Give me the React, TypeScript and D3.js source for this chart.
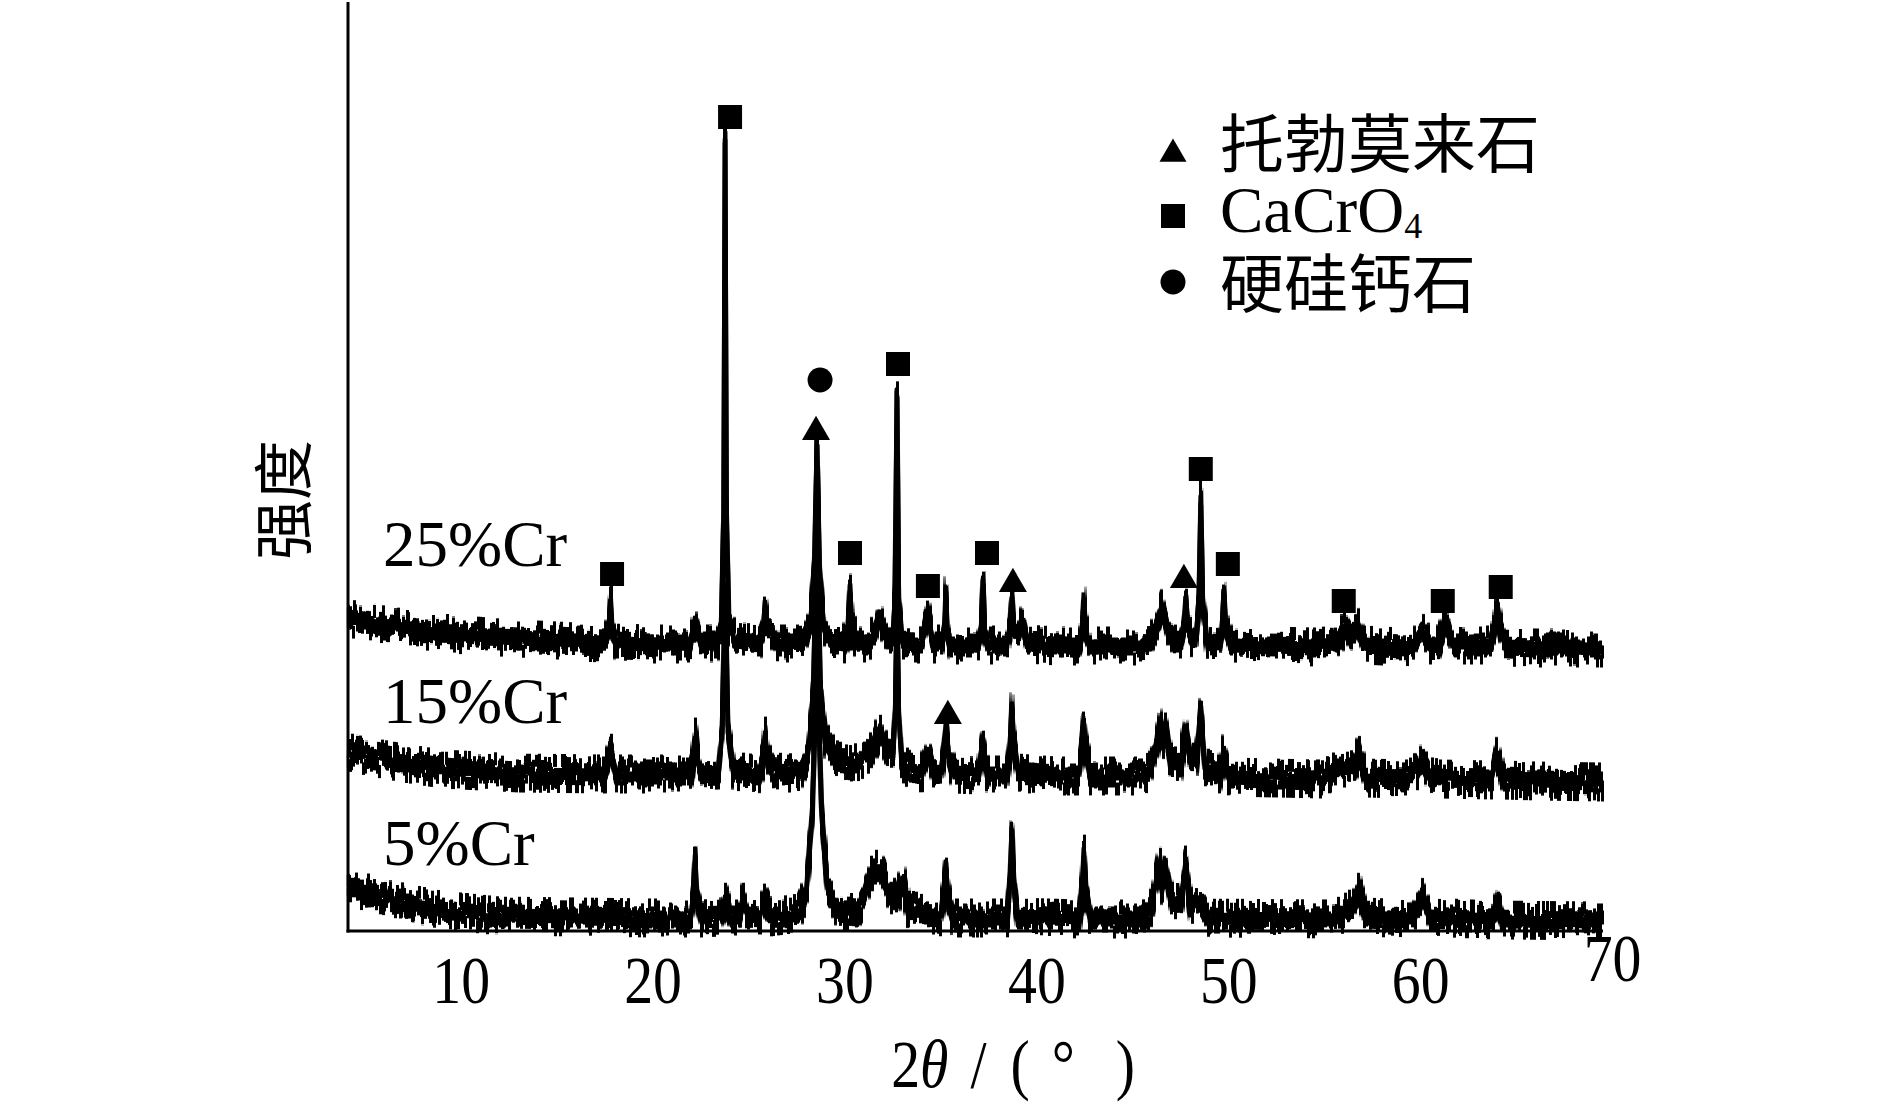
import React from "react";
import * as d3 from "d3";

// ---------- data (2θ in degrees, intensity in arbitrary units) ----------
const X_DOMAIN: [number, number] = [4.1, 69.5];
const Y_DOMAIN: [number, number] = [0, 930];
const X_TICKS = [10, 20, 30, 40, 50, 60, 70];

const SERIES_NAMES = ["25%Cr", "15%Cr", "5%Cr"];

const CR25: [number, number][] = [
  [4.1, 313], [5.0, 309], [7.0, 303], [9.0, 298], [12.0, 293], [16.0, 289],
  [17.5, 288], [17.7, 300], [17.78, 328], [17.86, 300], [18.1, 288],
  [20.0, 287],
  [21.9, 287], [22.19, 305], [22.5, 287],
  [23.3, 287], [23.55, 300], [23.68, 420], [23.75, 792], [23.82, 420], [23.95, 305], [24.3, 290],
  [25.5, 287], [25.75, 302], [25.83, 324], [25.95, 305], [26.2, 300], [26.5, 287],
  [27.5, 287],
  [27.9, 289], [28.2, 305], [28.4, 360], [28.54, 490], [28.68, 360], [28.9, 305], [29.3, 289],
  [29.95, 287], [30.15, 300], [30.26, 342], [30.38, 300], [30.7, 288],
  [31.2, 288], [31.6, 300], [31.82, 315], [32.1, 300], [32.35, 292],
  [32.5, 292], [32.6, 330], [32.71, 538], [32.8, 330], [32.95, 293], [33.3, 287],
  [34.0, 287], [34.32, 315], [34.6, 287],
  [35.05, 287], [35.18, 300], [35.26, 336], [35.34, 300], [35.5, 286],
  [36.95, 286], [37.1, 300], [37.19, 349], [37.28, 300], [37.45, 286],
  [38.45, 286], [38.6, 300], [38.7, 330], [38.8, 300], [39.05, 295], [39.27, 310], [39.5, 287],
  [41.0, 285],
  [42.2, 285], [42.35, 298], [42.45, 330], [42.55, 298], [42.75, 285],
  [45.5, 285],
  [45.9, 287], [46.3, 305], [46.55, 324], [46.8, 305], [47.2, 290],
  [47.5, 292], [47.66, 305], [47.76, 331], [47.86, 305], [48.1, 293],
  [48.3, 294], [48.44, 330], [48.54, 434], [48.64, 330], [48.85, 292],
  [49.5, 287], [49.64, 302], [49.74, 337], [49.84, 302], [50.1, 286],
  [54.5, 284],
  [55.5, 286], [55.9, 298], [56.15, 309], [56.4, 296], [56.7, 304], [57.0, 286],
  [59.0, 284],
  [59.7, 285], [60.1, 300], [60.5, 286],
  [60.9, 286], [61.25, 311], [61.6, 286],
  [63.65, 286], [63.85, 300], [64.0, 323], [64.15, 300], [64.45, 284],
  [66.0, 283], [69.5, 283],
];

const CR15: [number, number][] = [
  [4.1, 179], [5.0, 175], [7.0, 168], [9.0, 162], [13.0, 158],
  [17.5, 157], [17.81, 178], [18.1, 157],
  [21.9, 157], [22.05, 168], [22.19, 194], [22.33, 168], [22.5, 157],
  [23.4, 158], [23.6, 200], [23.75, 341], [23.9, 200], [24.2, 160],
  [25.5, 157], [25.75, 172], [25.83, 198], [25.95, 175], [26.3, 162], [26.8, 157],
  [27.7, 160], [28.1, 180], [28.35, 240], [28.54, 411], [28.72, 240], [29.0, 190], [29.5, 172],
  [30.2, 166], [30.8, 170], [31.4, 180], [31.82, 201], [32.2, 182],
  [32.5, 178], [32.62, 220], [32.71, 331], [32.8, 220], [32.95, 170], [33.4, 160],
  [34.0, 158], [34.32, 178], [34.6, 157],
  [35.0, 158], [35.15, 180], [35.26, 205], [35.4, 175], [35.7, 157],
  [36.95, 156], [37.19, 189], [37.4, 156],
  [38.45, 156], [38.6, 185], [38.7, 228], [38.8, 185], [39.0, 158],
  [41.0, 155],
  [42.2, 155], [42.35, 180], [42.45, 207], [42.55, 180], [42.8, 155],
  [45.5, 155],
  [45.9, 160], [46.25, 185], [46.4, 206], [46.55, 190], [46.7, 206], [46.95, 170],
  [47.5, 168], [47.76, 203], [48.0, 172],
  [48.3, 170], [48.54, 220], [48.75, 165],
  [49.5, 155], [49.74, 178], [50.0, 154],
  [54.8, 152],
  [55.3, 158], [55.6, 166], [55.9, 158], [56.5, 162], [56.77, 178], [57.1, 153],
  [59.3, 152], [59.8, 160], [60.1, 171], [60.5, 156], [61.0, 152],
  [63.7, 151], [64.0, 178], [64.3, 151],
  [66.0, 150], [69.5, 149],
];

const CR05: [number, number][] = [
  [4.1, 45], [5.0, 39], [7.0, 29], [9.0, 21], [12.0, 15], [20.0, 13],
  [21.95, 13], [22.1, 35], [22.19, 73], [22.28, 35], [22.5, 13],
  [23.5, 14], [23.75, 33], [24.0, 15], [24.5, 15], [24.69, 30], [24.9, 16],
  [25.6, 15], [25.83, 28], [26.1, 14],
  [27.6, 18], [28.0, 40], [28.3, 120], [28.54, 291], [28.78, 120], [29.1, 40], [29.6, 20],
  [30.6, 18], [31.0, 35], [31.3, 55], [31.6, 62], [31.9, 58], [32.3, 40], [32.7, 30],
  [33.02, 51], [33.3, 22],
  [35.0, 14], [35.15, 35], [35.26, 64], [35.4, 30], [35.6, 13],
  [38.45, 13], [38.6, 50], [38.7, 103], [38.8, 50], [39.0, 14],
  [42.2, 12], [42.35, 40], [42.45, 83], [42.55, 40], [42.8, 12],
  [45.5, 12], [46.0, 25], [46.4, 68], [46.55, 45], [46.7, 66], [47.0, 30],
  [47.5, 28], [47.76, 66], [48.0, 25], [48.6, 28], [49.0, 13],
  [55.5, 12], [56.2, 20], [56.5, 25], [56.8, 39], [57.1, 14],
  [59.5, 12], [60.05, 38], [60.5, 14],
  [63.8, 11], [64.06, 28], [64.3, 11],
  [69.5, 10],
];

// phase markers [2θ, intensity position]
const MARK_SQUARE: [number, number][] = [
  [24.01, 814], [32.76, 567], [17.86, 357], [30.26, 378], [34.32, 345], [37.40, 378],
  [48.54, 462], [49.95, 367], [55.99, 330], [61.15, 330], [64.17, 344],
];
const MARK_TRIANGLE: [number, number][] = [
  [28.49, 503], [38.75, 351], [47.66, 355], [35.36, 219],
];
const MARK_CIRCLE: [number, number][] = [[28.7, 551]];

const LEGEND = ["托勃莫来石", "CaCrO", "硬硅钙石"];

// ---------- layout ----------
const W = 1890;
const H = 1110;
const LEFT = 348;
const RIGHT = 1603;
const BOTTOM = 931;
const TOP = 1;
const SERIF = "'Liberation Serif', 'Times New Roman', serif";
const CJK = "'Noto Sans CJK SC', sans-serif";

const x = d3.scaleLinear().domain(X_DOMAIN).range([LEFT, RIGHT]);
const y = d3.scaleLinear().domain(Y_DOMAIN).range([BOTTOM, TOP]);
const line = d3
  .line<[number, number]>()
  .x((d) => x(d[0]))
  .y((d) => y(d[1]));

const triPath = d3.symbol().type(d3.symbolTriangle).size(340)() as string;
const sqPath = d3.symbol().type(d3.symbolSquare).size(576)() as string;
const circPath = d3.symbol().type(d3.symbolCircle).size(491)() as string;

const SERIES = [CR25, CR15, CR05];
const LABEL_BASE = [566, 723, 865];
const SEEDS = [7, 23, 41];

// the detector noise is rendered as a texture (SVG filter), not as data
function NoiseFilter({ id, seed }: { id: string; seed: number }) {
  const cm = "0 0 0 0 0.5  0 2.6 0 0 -0.8  0 0 0 0 0  0 0 0 0 1";
  return (
    <filter id={id} x="-2%" y="-25%" width="104%" height="150%" colorInterpolationFilters="sRGB">
      <feTurbulence type="fractalNoise" baseFrequency="1.7 0.003" numOctaves={2} seed={seed} result="t1" />
      <feColorMatrix in="t1" type="matrix" values={cm} result="m1" />
      <feDisplacementMap in="SourceGraphic" in2="m1" scale={26} xChannelSelector="R" yChannelSelector="G" result="d1" />
      <feMorphology in="d1" operator="dilate" radius="0.8 4.5" result="dd1" />
      <feTurbulence type="fractalNoise" baseFrequency="1.3 0.003" numOctaves={2} seed={seed + 101} result="t2" />
      <feColorMatrix in="t2" type="matrix" values={cm} result="m2" />
      <feDisplacementMap in="SourceGraphic" in2="m2" scale={14} xChannelSelector="R" yChannelSelector="G" result="d2" />
      <feMorphology in="d2" operator="dilate" radius="0.8 3" result="dd2" />
      <feMerge>
        <feMergeNode in="dd1" />
        <feMergeNode in="dd2" />
        <feMergeNode in="SourceGraphic" />
      </feMerge>
    </filter>
  );
}

export default function App() {
  return (
    <svg
      width={W}
      height={H}
      viewBox={`0 0 ${W} ${H}`}
      style={{ position: "absolute", left: 0, top: 0, display: "block", background: "#fff" }}
    >
      <defs>
        {SEEDS.map((s, i) => (
          <NoiseFilter key={i} id={`nz${i}`} seed={s} />
        ))}
      </defs>
      <rect width={W} height={H} fill="#fff" />

      {/* series */}
      {SERIES.map((s, i) => (
        <path
          key={i}
          d={line(s) as string}
          fill="none"
          stroke="#000"
          strokeWidth={2.8}
          strokeLinejoin="round"
          filter={`url(#nz${i})`}
        />
      ))}

      {/* axes */}
      <line x1={LEFT} y1={2} x2={LEFT} y2={BOTTOM + 1.5} stroke="#000" strokeWidth={3} />
      <line x1={LEFT - 1.5} y1={BOTTOM} x2={RIGHT} y2={BOTTOM} stroke="#000" strokeWidth={3} />

      {/* tick labels */}
      {X_TICKS.map((t, i) => (
        <text
          key={t}
          transform={`translate(${x(t)},${i === X_TICKS.length - 1 ? 981 : 1003}) scale(0.85,1)`}
          textAnchor="middle"
          fontFamily={SERIF}
          fontSize={68}
          fill="#000"
        >
          {t}
        </text>
      ))}

      {/* x label */}
      <text
        transform={`translate(1013,1087) scale(0.85,1)`}
        textAnchor="middle"
        fontFamily={SERIF}
        fontSize={68}
        fill="#000"
      >
        <tspan>2</tspan>
        <tspan fontStyle="italic">θ</tspan>
        <tspan dx={26}>/</tspan>
        <tspan dx={28}>(</tspan>
        <tspan dx={26}>°</tspan>
        <tspan dx={48}>)</tspan>
      </text>

      {/* y label */}
      <text
        transform="translate(306,500) rotate(-90)"
        textAnchor="middle"
        fontFamily={CJK}
        fontSize={60}
        fill="#000"
      >
        强度
      </text>

      {/* series labels */}
      {SERIES_NAMES.map((n, i) => (
        <text key={n} x={383} y={LABEL_BASE[i]} fontFamily={SERIF} fontSize={65} fill="#000">
          {n}
        </text>
      ))}

      {/* markers */}
      {MARK_SQUARE.map((m, i) => (
        <path key={`s${i}`} d={sqPath} transform={`translate(${x(m[0])},${y(m[1])})`} fill="#000" />
      ))}
      {MARK_TRIANGLE.map((m, i) => (
        <path key={`t${i}`} d={triPath} transform={`translate(${x(m[0])},${y(m[1]) + 4})`} fill="#000" />
      ))}
      {MARK_CIRCLE.map((m, i) => (
        <path key={`c${i}`} d={circPath} transform={`translate(${x(m[0])},${y(m[1])})`} fill="#000" />
      ))}

      {/* legend */}
      <path d={d3.symbol().type(d3.symbolTriangle).size(316)() as string} transform="translate(1173,154)" fill="#000" />
      <path d={sqPath} transform="translate(1173,216)" fill="#000" />
      <path d={circPath} transform="translate(1173,282)" fill="#000" />
      <text x={1220} y={167} fontFamily={CJK} fontSize={64} fill="#000">
        {LEGEND[0]}
      </text>
      <text x={1220} y={232} fontFamily={SERIF} fontSize={65} fill="#000">
        {LEGEND[1]}
        <tspan fontSize={36} dy={6}>4</tspan>
      </text>
      <text x={1220} y={307} fontFamily={CJK} fontSize={64} fill="#000">
        {LEGEND[2]}
      </text>
    </svg>
  );
}
